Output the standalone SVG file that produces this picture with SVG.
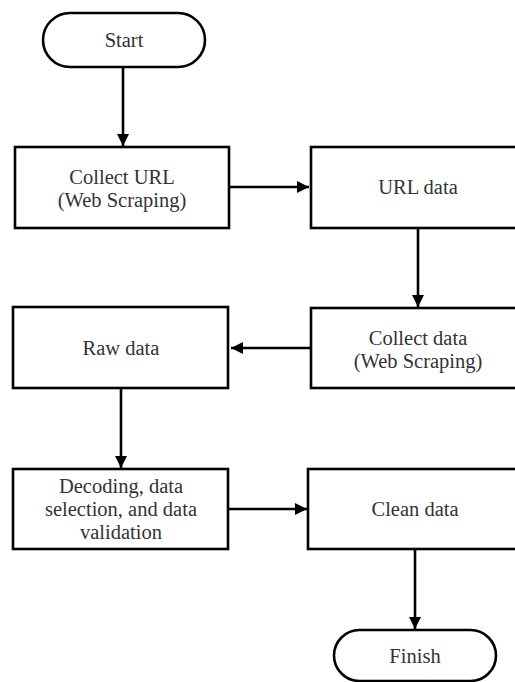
<svg xmlns="http://www.w3.org/2000/svg" width="515" height="682" viewBox="0 0 515 682">
<style>
.box{fill:#fff;stroke:#000;stroke-width:2.6}
.t{font-family:'Liberation Serif','Times New Roman','DejaVu Serif',serif;font-size:20.5px;fill:#333;text-anchor:middle}
.c{fill:none;stroke:#000;stroke-width:2.6}
</style>
<defs>
<marker id="a" viewBox="0 0 12 12" refX="12" refY="6" markerWidth="12" markerHeight="12" markerUnits="userSpaceOnUse" orient="auto">
<path d="M0,0 L12,6 L0,12 z" fill="#000"/>
</marker>
</defs>
<rect width="515" height="682" fill="#fff"/>
<g id="connectors">
<line class="c" x1="123" y1="67" x2="123" y2="146" marker-end="url(#a)"/>
<line class="c" x1="229" y1="187" x2="309" y2="187" marker-end="url(#a)"/>
<line class="c" x1="418" y1="228" x2="418" y2="307" marker-end="url(#a)"/>
<line class="c" x1="310" y1="348" x2="231" y2="348" marker-end="url(#a)"/>
<line class="c" x1="121" y1="388" x2="121" y2="468" marker-end="url(#a)"/>
<line class="c" x1="228" y1="509" x2="307" y2="509" marker-end="url(#a)"/>
<line class="c" x1="415" y1="549" x2="415" y2="629" marker-end="url(#a)"/>
</g>
<g id="start">
<rect class="box" x="43" y="13" width="162" height="54" rx="27" ry="27"/>
<text class="t" x="124" y="47">Start</text>
</g>
<g id="collect-url">
<rect class="box" x="15" y="147" width="214" height="81"/>
<text class="t" x="122" y="184">Collect URL</text>
<text class="t" x="122" y="207">(Web Scraping)</text>
</g>
<g id="url-data">
<rect class="box" x="311" y="147" width="214" height="81"/>
<text class="t" x="418" y="194">URL data</text>
</g>
<g id="collect-data">
<rect class="box" x="311" y="308" width="214" height="80"/>
<text class="t" x="418" y="345">Collect data</text>
<text class="t" x="418" y="368">(Web Scraping)</text>
</g>
<g id="raw-data">
<rect class="box" x="13" y="307" width="215" height="81"/>
<text class="t" x="121" y="355">Raw data</text>
</g>
<g id="decoding">
<rect class="box" x="13" y="469" width="215" height="80"/>
<text class="t" x="121" y="493">Decoding, data</text>
<text class="t" x="121" y="516">selection, and data</text>
<text class="t" x="121" y="539">validation</text>
</g>
<g id="clean-data">
<rect class="box" x="308" y="469" width="217" height="80"/>
<text class="t" x="415" y="516">Clean data</text>
</g>
<g id="finish">
<rect class="box" x="334" y="630" width="162" height="51" rx="25.5" ry="25.5"/>
<text class="t" x="415" y="663">Finish</text>
</g>
</svg>
